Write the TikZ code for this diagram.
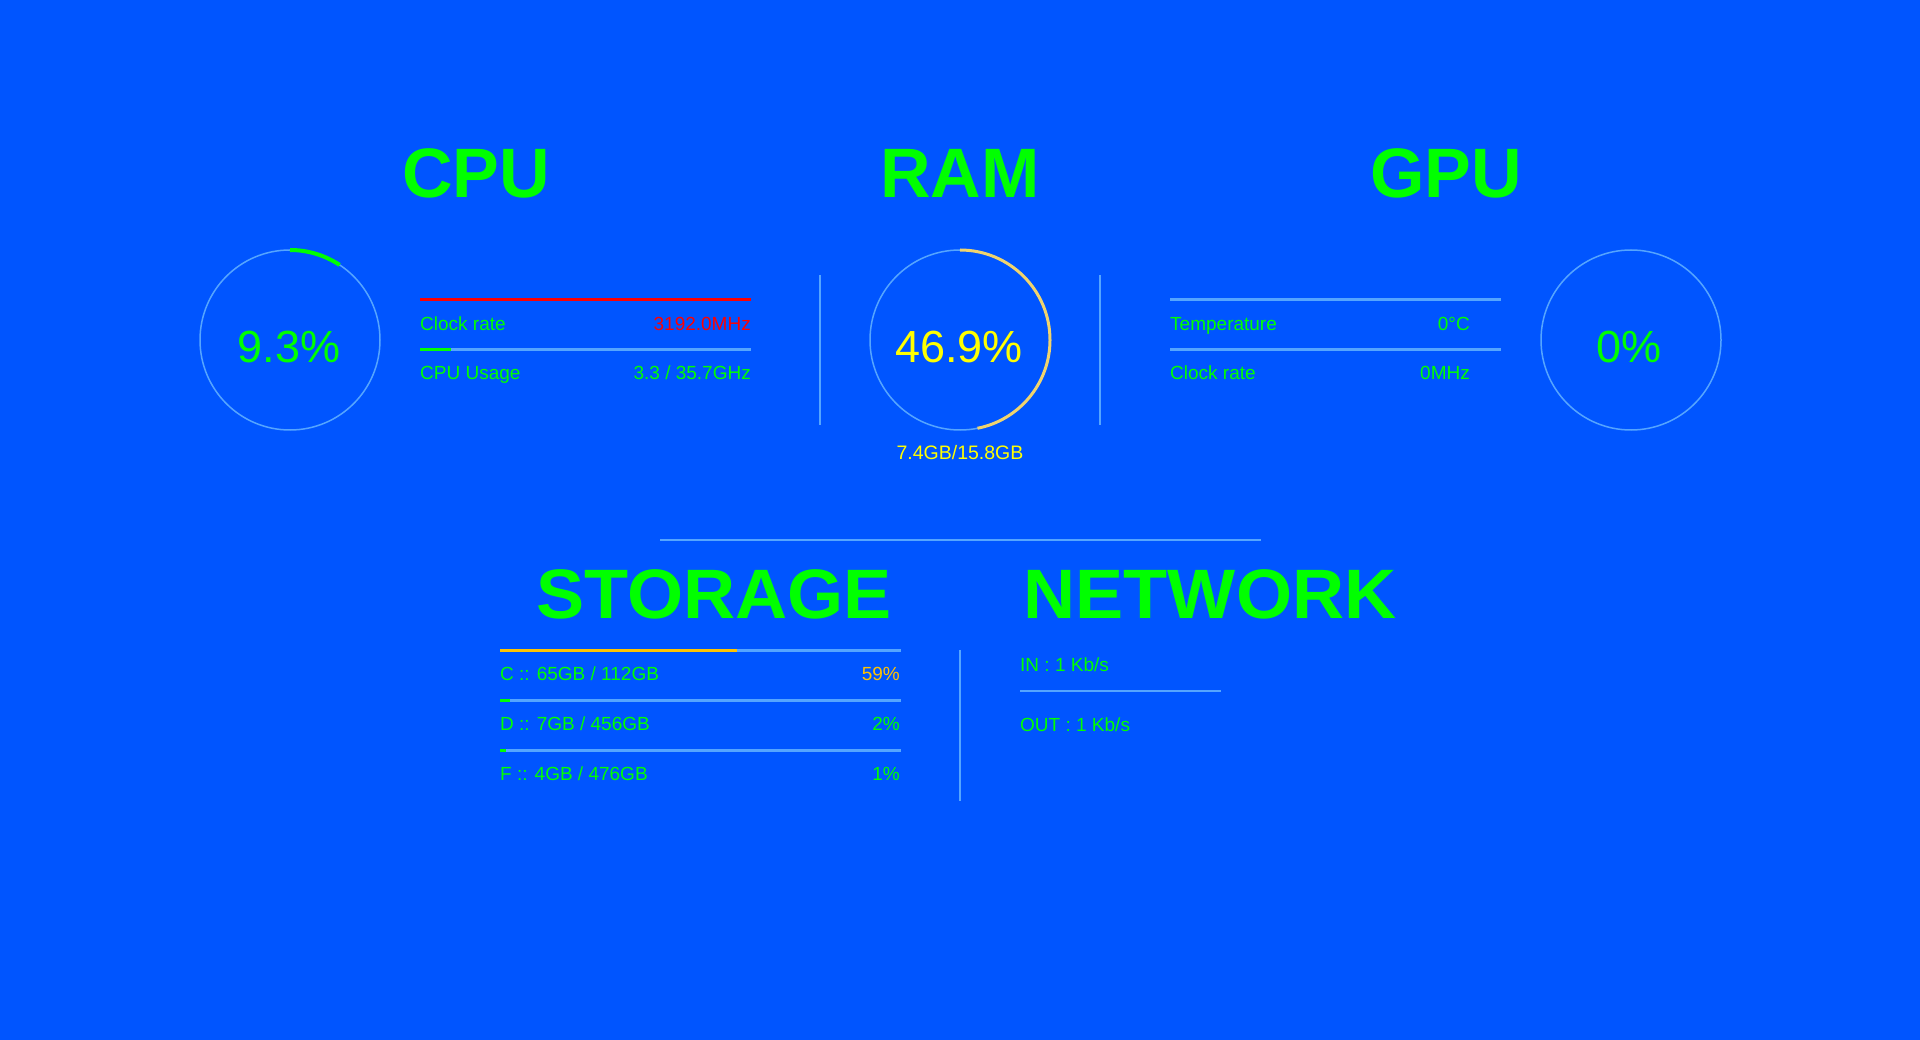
\documentclass[tikz,border=0pt]{standalone}
\usepackage{fontspec}
\setmainfont{Liberation Sans}
\usepackage{xcolor}
\usetikzlibrary{positioning,calc}

\definecolor{bgblue}{RGB}{0,85,255}
\definecolor{neon}{RGB}{0,255,0}
\definecolor{track}{RGB}{85,165,255}
\definecolor{ramarc}{RGB}{240,212,110}
\definecolor{amber}{RGB}{255,196,0}
\definecolor{hot}{RGB}{255,0,0}
\definecolor{memyellow}{RGB}{255,255,0}

\begin{document}
\begin{tikzpicture}[x=1pt, y=1pt, font=\fontsize{19}{22}\selectfont,
    title/.style={font=\fontsize{70}{70}\selectfont\bfseries, text=neon, anchor=base, inner sep=0},
    gauge/.style={circle, draw=track, line width=1.5pt, minimum size=180pt, inner sep=0, outer sep=0},
    bigval/.style={font=\fontsize{45}{45}\selectfont, anchor=base, inner sep=0},
    lbl/.style={text=neon, anchor=base west, inner sep=0},
    val/.style={text=neon, anchor=base east, inner sep=0},
    bar/.style={line width=3pt, draw=track},
    sep/.style={line width=1.2pt, draw=track}]

    \fill[bgblue] (0,0) rectangle (1920,-1040);
    \useasboundingbox (0,0) rectangle (1920,-1040);

    
    \node[title] (cputitle)  at (476,-198)  {CPU};
    \node[title] (ramtitle)  at (960,-198)  {RAM};
    \node[title] (gputitle)  at (1446,-198) {GPU};
    \node[title, xscale=1.03] (stortitle) at (714,-618)  {STORAGE};
    \node[title, xscale=1.03] (nettitle)  at (1210,-618) {NETWORK};

    
    \node[gauge] (cpuring) at (290,-340)  {};
    \node[gauge] (ramring) at (960,-340)  {};
    \node[gauge] (gpuring) at (1631,-340) {};

    \draw[neon, line width=4pt] (cpuring.north) arc[start angle=90, end angle=56.5, radius=90];
    \draw[ramarc, line width=3pt] (ramring.north) arc[start angle=90, end angle=-78.8, radius=90];

    \node[bigval, text=neon]      (cpuval) at (289,-363)  {9.3\%};
    \node[bigval, text=memyellow] (ramval) at (959,-363)  {46.9\%};
    \node[bigval, text=neon]      (gpuval) at (1629,-363) {0\%};
    \node[anchor=base, inner sep=0, text=memyellow, font=\fontsize{19.5}{21}\selectfont]
        (ramused) at (960,-460) {7.4GB/15.8GB};

    
    \coordinate (cpuA1) at (420,-300);
    \coordinate (cpuA2) at (751,-300);
    \coordinate (cpuB1) at (420,-350);
    \coordinate (cpuB2) at (751,-350);
    \draw[bar, draw=hot] (cpuA1) -- (cpuA2);
    \draw[bar] (cpuB1) -- (cpuB2);
    \draw[bar, draw=neon] (cpuB1) -- ($(cpuB1)!0.093!(cpuB2)$);

    \node[lbl] (cpuclk) at (420,-331) {Clock rate};
    \node[val, text=hot] (cpuclkv) at (751,-331) {3192.0MHz};
    \node[lbl] (cpuuse) at (420,-380) {CPU Usage};
    \node[val] (cpusev) at (751,-380) {3.3 / 35.7GHz};

    
    \coordinate (gpuA1) at (1170,-300);
    \coordinate (gpuA2) at (1501,-300);
    \coordinate (gpuB1) at (1170,-350);
    \coordinate (gpuB2) at (1501,-350);
    \draw[bar] (gpuA1) -- (gpuA2);
    \draw[bar] (gpuB1) -- (gpuB2);

    \node[lbl] (gputemp)  at (1170,-331) {Temperature};
    \node[val] (gputempv) at (1470,-331) {0°C};
    \node[lbl] (gpuclk)   at (1170,-380) {Clock rate};
    \node[val] (gpuclkv)  at (1470,-380) {0MHz};

    
    \coordinate (sepL1) at (820,-275);
    \coordinate (sepL2) at (820,-425);
    \coordinate (sepR1) at (1100,-275);
    \coordinate (sepR2) at (1100,-425);
    \coordinate (sepH1) at (660,-540);
    \coordinate (sepH2) at (1261,-540);
    \coordinate (sepS1) at (960,-650);
    \coordinate (sepS2) at (960,-801);
    \draw[sep] (sepL1) -- (sepL2);
    \draw[sep] (sepR1) -- (sepR2);
    \draw[sep] (sepH1) -- (sepH2);
    \draw[sep] (sepS1) -- (sepS2);

    
    \coordinate (diskC1) at (500,-650);
    \coordinate (diskC2) at (901,-650);
    \coordinate (diskD1) at (500,-700);
    \coordinate (diskD2) at (901,-700);
    \coordinate (diskF1) at (500,-750);
    \coordinate (diskF2) at (901,-750);
    \draw[bar] (diskC1) -- (diskC2);
    \draw[bar] (diskD1) -- (diskD2);
    \draw[bar] (diskF1) -- (diskF2);
    \draw[bar, draw=amber] (diskC1) -- ($(diskC1)!0.59!(diskC2)$);
    \draw[bar, draw=neon] (diskD1) -- ($(diskD1)!0.025!(diskD2)$);
    \draw[bar, draw=neon] (diskF1) -- ($(diskF1)!0.015!(diskF2)$);

    \node[lbl] (diskC)  at (500,-680) {C :: 65GB / 112GB};
    \node[val, text=amber] (diskCv) at (900,-680) {59\%};
    \node[lbl] (diskD)  at (500,-730) {D :: 7GB / 456GB};
    \node[val] (diskDv) at (900,-730) {2\%};
    \node[lbl] (diskF)  at (500,-780) {F :: 4GB / 476GB};
    \node[val] (diskFv) at (900,-780) {1\%};

    
    \node[lbl] (netin)  at (1020,-671) {IN : 1 Kb/s};
    \coordinate (netsep1) at (1020,-691);
    \coordinate (netsep2) at (1221,-691);
    \draw[bar, line width=2.5pt] (netsep1) -- (netsep2);
    \node[lbl] (netout) at (1020,-731) {OUT : 1 Kb/s};

\end{tikzpicture}
\end{document}
